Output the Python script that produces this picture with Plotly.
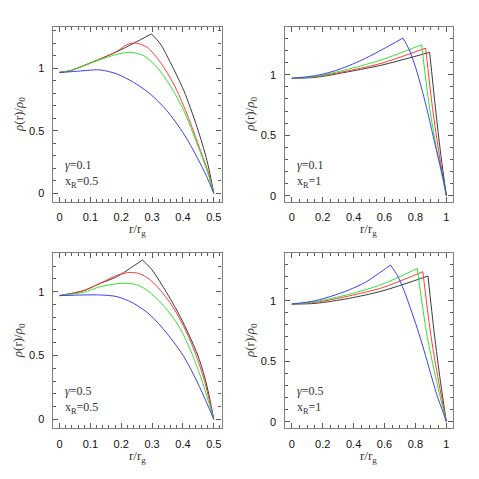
import plotly.graph_objects as go

# curves: (r/rg, rho/rho0)
# panel 1: gamma=0.1, xR=0.5
TL_BLACK = [(0, 0.968), (0.035, 0.981), (0.078, 1.021), (0.132, 1.075), (0.186, 1.133), (0.24, 1.2),
            (0.298, 1.275), (0.327, 1.195), (0.359, 1.048), (0.403, 0.821), (0.446, 0.528),
            (0.478, 0.261), (0.5, 0.0)]
TL_RED = [(0, 0.968), (0.035, 0.981), (0.078, 1.021), (0.132, 1.075), (0.186, 1.136), (0.219, 1.19),
          (0.246, 1.203), (0.284, 1.168), (0.327, 1.048), (0.37, 0.875), (0.413, 0.635),
          (0.457, 0.341), (0.484, 0.155), (0.5, 0.0)]
TL_GREEN = [(0, 0.968), (0.035, 0.981), (0.078, 1.02), (0.132, 1.07), (0.186, 1.112), (0.229, 1.128),
            (0.273, 1.101), (0.316, 1.008), (0.359, 0.861), (0.403, 0.661), (0.446, 0.395),
            (0.478, 0.181), (0.5, 0.0)]
TL_BLUE = [(0, 0.966), (0.05, 0.975), (0.132, 0.987), (0.186, 0.955), (0.24, 0.888), (0.294, 0.795),
           (0.348, 0.661), (0.403, 0.475), (0.446, 0.288), (0.478, 0.128), (0.5, 0.0)]

# panel 2: gamma=0.1, xR=1
TR_BLACK = [(0, 0.97), (0.152, 0.978), (0.368, 1.025), (0.584, 1.08), (0.892, 1.185),
            (0.93, 0.72), (0.965, 0.33), (1.0, 0.0)]
TR_RED = [(0, 0.97), (0.152, 0.983), (0.368, 1.033), (0.584, 1.096), (0.866, 1.22),
          (0.91, 0.73), (0.955, 0.33), (1.0, 0.0)]
TR_GREEN = [(0, 0.97), (0.152, 0.986), (0.368, 1.047), (0.584, 1.124), (0.84, 1.248),
            (0.89, 0.74), (0.945, 0.33), (1.0, 0.0)]
TR_BLUE = [(0, 0.97), (0.152, 0.992), (0.26, 1.025), (0.368, 1.074), (0.476, 1.135), (0.584, 1.207),
           (0.719, 1.303), (0.758, 1.212), (0.801, 1.061), (0.844, 0.868), (0.887, 0.647),
           (0.931, 0.4), (0.974, 0.179), (1.0, 0.0)]

# panel 3: gamma=0.5, xR=0.5
BL_BLACK = [(0, 0.969), (0.078, 1.008), (0.132, 1.065), (0.186, 1.117), (0.229, 1.183), (0.269, 1.248),
            (0.3, 1.17), (0.33, 1.06), (0.36, 0.94), (0.39, 0.81), (0.42, 0.66), (0.45, 0.49),
            (0.475, 0.29), (0.5, 0.0)]
BL_RED = [(0, 0.969), (0.078, 1.008), (0.132, 1.065), (0.186, 1.128), (0.229, 1.151), (0.26, 1.14),
          (0.29, 1.1), (0.32, 1.03), (0.35, 0.94), (0.38, 0.83), (0.41, 0.69), (0.44, 0.52),
          (0.47, 0.3), (0.5, 0.0)]
BL_GREEN = [(0, 0.969), (0.078, 0.995), (0.132, 1.039), (0.202, 1.065), (0.25, 1.055), (0.29, 1.0),
            (0.33, 0.91), (0.37, 0.79), (0.4, 0.67), (0.43, 0.51), (0.465, 0.28), (0.5, 0.0)]
BL_BLUE = [(0, 0.969), (0.078, 0.974), (0.132, 0.974), (0.186, 0.961), (0.24, 0.909), (0.294, 0.817),
           (0.348, 0.674), (0.403, 0.491), (0.446, 0.295), (0.478, 0.125), (0.5, 0.0)]

# panel 4: gamma=0.5, xR=1
BR_BLACK = [(0, 0.972), (0.152, 0.978), (0.368, 1.019), (0.584, 1.08), (0.881, 1.204),
            (0.922, 0.73), (0.962, 0.33), (1.0, 0.0)]
BR_RED = [(0, 0.972), (0.152, 0.986), (0.368, 1.039), (0.584, 1.107), (0.848, 1.24),
          (0.897, 0.74), (0.95, 0.33), (1.0, 0.0)]
BR_GREEN = [(0, 0.972), (0.152, 0.992), (0.368, 1.052), (0.584, 1.135), (0.812, 1.267),
            (0.87, 0.75), (0.937, 0.33), (1.0, 0.0)]
BR_BLUE = [(0, 0.972), (0.152, 1.0), (0.26, 1.039), (0.368, 1.088), (0.476, 1.152), (0.584, 1.245),
           (0.639, 1.295), (0.682, 1.212), (0.725, 1.088), (0.768, 0.937), (0.812, 0.771),
           (0.855, 0.592), (0.898, 0.4), (0.942, 0.207), (0.974, 0.096), (1.0, 0.0)]

GAMMA_LABELS = ['0.1', '0.1', '0.5', '0.5']
XR_LABELS = ['0.5', '1', '0.5', '1']

COLORS = {'black': '#3a3a3a', 'red': '#ff3b3b', 'green': '#2ee62e', 'blue': '#3d3dff'}

panels = [
    (TL_BLACK, TL_RED, TL_GREEN, TL_BLUE),
    (TR_BLACK, TR_RED, TR_GREEN, TR_BLUE),
    (BL_BLACK, BL_RED, BL_GREEN, BL_BLUE),
    (BR_BLACK, BR_RED, BR_GREEN, BR_BLUE),
]
# curves with a sharp corner at their peak
kinked = {(0, 0), (1, 0), (1, 1), (1, 2), (1, 3), (2, 0), (3, 0), (3, 1), (3, 2), (3, 3)}

fig = go.Figure()

for p, curves in enumerate(panels):
    ax = '' if p == 0 else str(p + 1)
    for c, (pts, col) in enumerate(zip(curves, ['black', 'red', 'green', 'blue'])):
        xs = [a for a, b in pts]
        ys = [b for a, b in pts]
        if (p, c) in kinked:
            k = ys.index(max(ys))
            parts = [(xs[:k + 1], ys[:k + 1]), (xs[k:], ys[k:])]
        else:
            parts = [(xs, ys)]
        for px, py in parts:
            fig.add_trace(go.Scatter(x=px, y=py, mode='lines', xaxis='x' + ax, yaxis='y' + ax,
                                     line=dict(color=COLORS[col], width=1, shape='spline', smoothing=0.8),
                                     showlegend=False, hoverinfo='skip'))

# page body has an 8px margin, so the figure is sized/placed in window pixels minus that
OFF = 8
W = 479 - OFF

def fx(px):
    return (px - OFF) / W

def fy(py):
    return 1 - (py - OFF) / W

frame = '#808080'
tickc = '#5a5a5a'
tickfont = dict(family='Liberation Sans, Arial, sans-serif', size=11, color='#111')

def xaxis_cfg(domain, rng, dtick, minor, anchor):
    return dict(domain=domain, range=rng, anchor=anchor, dtick=dtick, tick0=0,
                ticks='inside', ticklen=5, tickcolor=tickc, tickwidth=1,
                minor=dict(dtick=minor, tick0=0, ticks='inside', ticklen=3, tickcolor=tickc, tickwidth=1),
                showline=True, linecolor=frame, linewidth=1.3, mirror='allticks',
                showgrid=False, zeroline=False, tickfont=tickfont, ticklabelstandoff=5)

def yaxis_cfg(domain, rng, anchor):
    return dict(domain=domain, range=rng, anchor=anchor, dtick=0.5, tick0=0,
                tickvals=[0, 0.5, 1], ticktext=['0', '0.5', '1'],
                ticks='inside', ticklen=5, tickcolor=tickc, tickwidth=1,
                minor=dict(dtick=0.1, tick0=0, ticks='inside', ticklen=3, tickcolor=tickc, tickwidth=1),
                showline=True, linecolor=frame, linewidth=1.3, mirror='allticks',
                showgrid=False, zeroline=False, tickfont=tickfont, ticklabelstandoff=5)

# panel boxes in window pixels
XL = (52.7, 221.5)
XR = (284.5, 453.3)
YT = (26.7, 201.7)
YB = (252.7, 428.3)

xl = [fx(XL[0]), fx(XL[1])]
xr = [fx(XR[0]), fx(XR[1])]
yt = [fy(YT[1]), fy(YT[0])]
yb = [fy(YB[1]), fy(YB[0])]

serif = dict(family='Liberation Serif, Times New Roman, serif', size=13, color='#333')
serif_s = dict(family='Liberation Serif, Times New Roman, serif', size=12, color='#333')

annotations = []
boxes = [(XL, YT), (XR, YT), (XL, YB), (XR, YB)]
for p, (bx, by) in enumerate(boxes):
    cx = (bx[0] + bx[1]) / 2
    annotations.append(dict(text='r/r<sub>g</sub>', x=fx(cx), y=fy(by[1] + 28), xref='paper', yref='paper',
                            showarrow=False, font=serif, xanchor='center', yanchor='middle'))
    annotations.append(dict(text='<i>ρ</i>(r)/<i>ρ</i><sub>0</sub>', x=fx(bx[0] - 34),
                            y=fy((by[0] + by[1]) / 2), xref='paper', yref='paper', textangle=-90,
                            showarrow=False, font=serif, xanchor='center', yanchor='middle'))
    # gamma line sits just above the x_R line
    annotations.append(dict(text='<i>γ</i>=' + GAMMA_LABELS[p], x=fx(bx[0] + 11), y=fy(by[1] - 29),
                            xref='paper', yref='paper', showarrow=False, font=serif_s,
                            xanchor='left', yanchor='bottom', borderpad=0))
    annotations.append(dict(text='x<sub>R</sub>=' + XR_LABELS[p], x=fx(bx[0] + 11), y=fy(by[1] - 29),
                            xref='paper', yref='paper', showarrow=False, font=serif_s,
                            xanchor='left', yanchor='top', borderpad=0))

fig.update_layout(
    width=W, height=W, margin=dict(l=0, r=0, t=0, b=0),
    paper_bgcolor='white', plot_bgcolor='white',
    xaxis=xaxis_cfg(xl, [-0.022, 0.525], 0.1, 0.02, 'y'),
    yaxis=yaxis_cfg(yt, [-0.067, 1.333], 'x'),
    xaxis2=xaxis_cfg(xr, [-0.047, 1.045], 0.2, 0.05, 'y2'),
    yaxis2=yaxis_cfg(yt, [-0.05, 1.397], 'x2'),
    xaxis3=xaxis_cfg(xl, [-0.022, 0.525], 0.1, 0.02, 'y3'),
    yaxis3=yaxis_cfg(yb, [-0.07, 1.305], 'x3'),
    xaxis4=xaxis_cfg(xr, [-0.047, 1.045], 0.2, 0.05, 'y4'),
    yaxis4=yaxis_cfg(yb, [-0.055, 1.397], 'x4'),
    annotations=annotations,
)

fig.write_html('out.html')
